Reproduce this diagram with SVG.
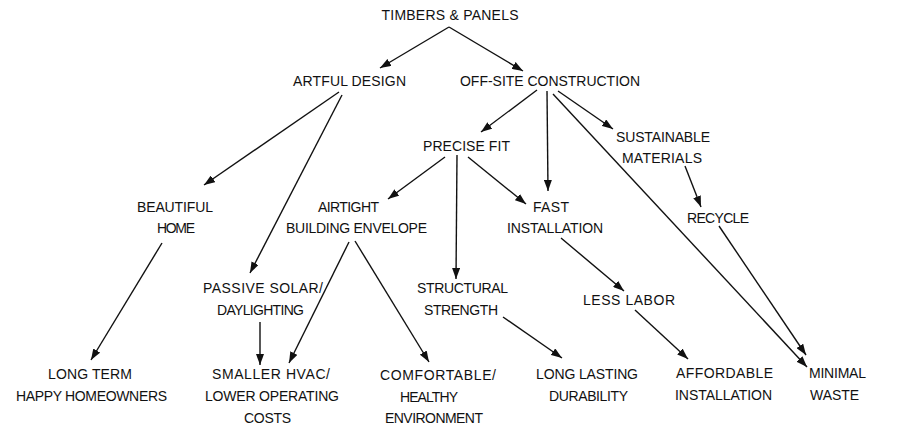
<svg xmlns="http://www.w3.org/2000/svg" width="900" height="436" viewBox="0 0 900 436">
<defs>
<style>
text{font-family:"Liberation Sans","DejaVu Sans",sans-serif;font-size:14px;fill:#111;text-anchor:middle;}
.c line{stroke:#111;stroke-width:1.4;fill:none;marker-end:url(#ah);}
</style>
<marker id="ah" markerUnits="userSpaceOnUse" markerWidth="12" markerHeight="8" refX="11" refY="4" orient="auto">
<path d="M0,0 L11,4 L0,8 z" fill="#111"/>
</marker>
</defs>
<rect width="900" height="436" fill="#fff"/>
<g class="c" id="connectors">
<line x1="449" y1="27" x2="380" y2="68"/>
<line x1="449" y1="27" x2="523" y2="71"/>
<line x1="339" y1="92" x2="204" y2="185"/>
<line x1="342" y1="95" x2="250" y2="273"/>
<line x1="537" y1="90" x2="481" y2="132"/>
<line x1="547" y1="91" x2="548" y2="191"/>
<line x1="553" y1="94" x2="807" y2="367"/>
<line x1="558" y1="91" x2="613" y2="129"/>
<line x1="445" y1="157" x2="388" y2="199"/>
<line x1="457" y1="155" x2="456" y2="279"/>
<line x1="468" y1="157" x2="526" y2="204"/>
<line x1="685" y1="166" x2="701" y2="207"/>
<line x1="561" y1="238" x2="624" y2="291"/>
<line x1="719" y1="226" x2="806" y2="355"/>
<line x1="503" y1="317" x2="562" y2="358"/>
<line x1="635" y1="310" x2="688" y2="359"/>
<line x1="162" y1="243" x2="91" y2="360"/>
<line x1="260" y1="322" x2="260" y2="365"/>
<line x1="349" y1="242" x2="289" y2="363"/>
<line x1="355" y1="241" x2="429" y2="362"/>
</g>
<g id="n-timbers"><text x="450" y="20" textLength="137">TIMBERS &amp; PANELS</text></g>
<g id="n-artful"><text x="349.5" y="86" textLength="113">ARTFUL DESIGN</text></g>
<g id="n-offsite"><text x="550" y="86" textLength="180">OFF-SITE CONSTRUCTION</text></g>
<g id="n-precise"><text x="466.5" y="151" textLength="87">PRECISE FIT</text></g>
<g id="n-sustainable"><text x="663" y="142" textLength="94">SUSTAINABLE</text><text x="662" y="163" textLength="80">MATERIALS</text></g>
<g id="n-beautiful"><text x="175" y="212" textLength="76">BEAUTIFUL</text><text x="176" y="233" textLength="38">HOME</text></g>
<g id="n-airtight"><text x="348.5" y="212" textLength="61">AIRTIGHT</text><text x="356.5" y="233" textLength="141">BUILDING ENVELOPE</text></g>
<g id="n-fast"><text x="551" y="212" textLength="36">FAST</text><text x="555" y="233" textLength="96">INSTALLATION</text></g>
<g id="n-recycle"><text x="718" y="223" textLength="62">RECYCLE</text></g>
<g id="n-passive"><text x="263" y="293" textLength="120">PASSIVE SOLAR/</text><text x="260.5" y="315" textLength="87">DAYLIGHTING</text></g>
<g id="n-structural"><text x="462.5" y="293" textLength="91">STRUCTURAL</text><text x="461" y="315" textLength="74">STRENGTH</text></g>
<g id="n-lesslabor"><text x="629" y="305" textLength="92">LESS LABOR</text></g>
<g id="n-longterm"><text x="90" y="379" textLength="84">LONG TERM</text><text x="91.5" y="401" textLength="151">HAPPY HOMEOWNERS</text></g>
<g id="n-smaller"><text x="271" y="379" textLength="118">SMALLER HVAC/</text><text x="272" y="401" textLength="134">LOWER OPERATING</text><text x="267.5" y="423" textLength="47">COSTS</text></g>
<g id="n-comfortable"><text x="438" y="380" textLength="116">COMFORTABLE/</text><text x="429" y="402" textLength="58">HEALTHY</text><text x="434" y="423" textLength="98">ENVIRONMENT</text></g>
<g id="n-longlasting"><text x="587" y="379" textLength="102">LONG LASTING</text><text x="588.5" y="401" textLength="79">DURABILITY</text></g>
<g id="n-affordable"><text x="724.5" y="378" textLength="97">AFFORDABLE</text><text x="723.5" y="400" textLength="97">INSTALLATION</text></g>
<g id="n-minimal"><text x="837.5" y="378" textLength="57">MINIMAL</text><text x="834.5" y="400" textLength="49">WASTE</text></g>
</svg>
